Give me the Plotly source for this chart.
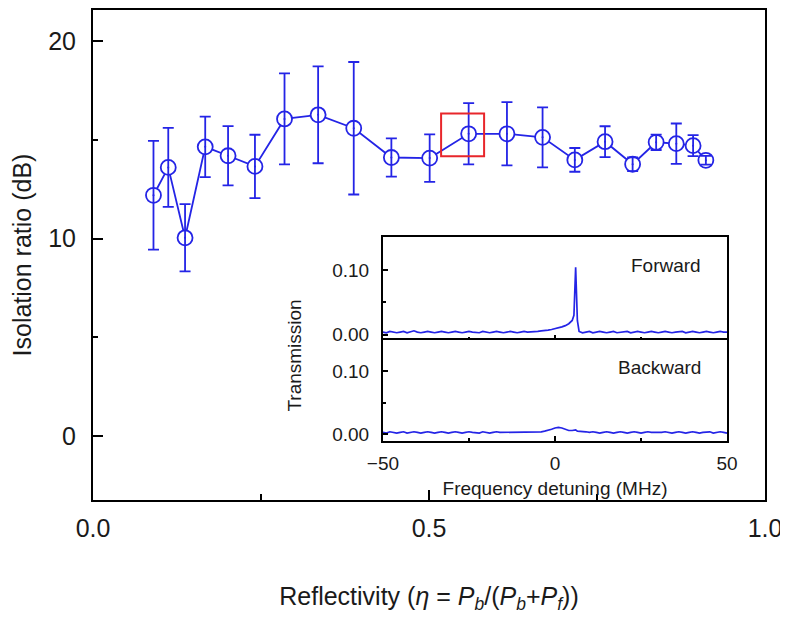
import plotly.graph_objects as go

# main panel: isolation ratio vs reflectivity
REFLECTIVITY = [0.090, 0.112, 0.137, 0.167, 0.201, 0.241, 0.285, 0.335, 0.388, 0.444, 0.501,
                0.559, 0.616, 0.669, 0.717, 0.762, 0.803, 0.838, 0.868, 0.893, 0.912]
ISOLATION_DB = [12.19, 13.60, 10.04, 14.64, 14.19, 13.65, 16.05, 16.26, 15.58, 14.10, 14.07,
                15.30, 15.30, 15.12, 13.98, 14.90, 13.76, 14.87, 14.80, 14.70, 13.96]
ISOLATION_ERR = [2.75, 2.00, 1.70, 1.53, 1.50, 1.60, 2.30, 2.45, 3.35, 0.97, 1.20,
                 1.55, 1.60, 1.52, 0.60, 0.78, 0.35, 0.39, 1.02, 0.53, 0.22]

# highlighted point (red box), in data units
HIGHLIGHT_X = [0.518, 0.582]
HIGHLIGHT_Y = [14.17, 16.32]

# inset: transmission spectra
DETUNING_MHZ = [-50, -49, -48, -47, -46, -45, -44, -43, -42, -41, -40, -39, -38, -37, -36, -35,
                -34, -33, -32, -31, -30, -29, -28, -27, -26, -25, -24, -23, -22, -21, -20, -19,
                -18, -17, -16, -15, -14, -13, -12, -11, -10, -9, -8, -7, -6, -5, -4, -3, -2, -1,
                0, 1, 2, 3, 4, 5, 5.5, 6, 6.5, 7, 8, 9, 10, 11, 12, 13, 14, 15, 16, 17, 18, 19,
                20, 21, 22, 23, 24, 25, 26, 27, 28, 29, 30, 31, 32, 33, 34, 35, 36, 37, 38, 39,
                40, 41, 42, 43, 44, 45, 46, 47, 48, 49, 50]
FORWARD = [0.004, 0.003, 0.005, 0.004, 0.003, 0.004, 0.005, 0.003, 0.004, 0.006, 0.004, 0.003,
           0.004, 0.005, 0.004, 0.003, 0.004, 0.005, 0.004, 0.003, 0.004, 0.005, 0.004, 0.003,
           0.004, 0.005, 0.004, 0.004, 0.003, 0.005, 0.004, 0.003, 0.004, 0.005, 0.004, 0.003,
           0.004, 0.005, 0.004, 0.003, 0.004, 0.005, 0.004, 0.004, 0.005, 0.005, 0.006, 0.006,
           0.007, 0.008, 0.009, 0.011, 0.012, 0.014, 0.017, 0.022, 0.030, 0.104, 0.022, 0.005,
           0.003, 0.004, 0.005, 0.003, 0.004, 0.005, 0.004, 0.003, 0.004, 0.005, 0.003, 0.004,
           0.004, 0.005, 0.003, 0.004, 0.005, 0.004, 0.003, 0.004, 0.005, 0.004, 0.003, 0.004,
           0.005, 0.004, 0.003, 0.004, 0.004, 0.005, 0.003, 0.004, 0.005, 0.004, 0.003, 0.004,
           0.005, 0.004, 0.003, 0.004, 0.005, 0.004, 0.004, 0.003, 0.004]
BACKWARD = [0.003, 0.002, 0.004, 0.003, 0.002, 0.003, 0.004, 0.002, 0.003, 0.004, 0.003, 0.002,
            0.003, 0.004, 0.003, 0.002, 0.003, 0.004, 0.003, 0.002, 0.003, 0.004, 0.003, 0.002,
            0.003, 0.004, 0.003, 0.003, 0.002, 0.004, 0.003, 0.002, 0.003, 0.004, 0.003, 0.003,
            0.004, 0.003, 0.004, 0.003, 0.003, 0.004, 0.003, 0.004, 0.004, 0.004, 0.004, 0.005,
            0.006, 0.008, 0.010, 0.011, 0.010, 0.008, 0.006, 0.006, 0.006, 0.007, 0.005, 0.005,
            0.004, 0.004, 0.003, 0.004, 0.003, 0.002, 0.003, 0.004, 0.003, 0.002, 0.003, 0.004,
            0.003, 0.002, 0.003, 0.004, 0.003, 0.002, 0.003, 0.004, 0.003, 0.003, 0.002, 0.003,
            0.004, 0.003, 0.002, 0.003, 0.004, 0.003, 0.002, 0.003, 0.004, 0.003, 0.002, 0.003,
            0.003, 0.004, 0.002, 0.003, 0.004, 0.003, 0.002, 0.003, 0.003]

BLUE = "#2424e6"
INK = "#1a1a1a"
FONT = "Liberation Sans, Arial, Helvetica, sans-serif"

fig = go.Figure()

# connecting line + hollow circles (white fill hides the line inside)
fig.add_trace(go.Scatter(
    x=REFLECTIVITY, y=ISOLATION_DB,
    mode="lines+markers",
    line=dict(color=BLUE, width=1.8),
    marker=dict(symbol="circle", size=15, color="white", line=dict(color=BLUE, width=1.8)),
    hoverinfo="skip",
))
# error bars drawn on top, so they show through the circles
fig.add_trace(go.Scatter(
    x=REFLECTIVITY, y=ISOLATION_DB,
    mode="markers",
    marker=dict(size=2, color=BLUE),
    error_y=dict(type="data", array=ISOLATION_ERR, color=BLUE, thickness=1.8, width=5.5),
))

fig.add_shape(
    type="rect", xref="x", yref="y",
    x0=HIGHLIGHT_X[0], x1=HIGHLIGHT_X[1], y0=HIGHLIGHT_Y[0], y1=HIGHLIGHT_Y[1],
    line=dict(color="#e8262b", width=2),
)

fig.add_trace(go.Scatter(
    x=DETUNING_MHZ, y=FORWARD, xaxis="x2", yaxis="y2",
    mode="lines", line=dict(color=BLUE, width=1.7),
))
fig.add_trace(go.Scatter(
    x=DETUNING_MHZ, y=BACKWARD, xaxis="x3", yaxis="y3",
    mode="lines", line=dict(color=BLUE, width=1.7),
))

frame = dict(showline=True, mirror=True, linecolor="black", linewidth=2,
             ticks="inside", tickcolor="black", showgrid=False, zeroline=False)

inset_x = [0.4315, 0.9435]

# the page body adds an 8 px offset, so the figure is 8 px smaller than the window
fig.update_layout(
    width=780, height=618,
    margin=dict(l=85, r=23, t=0, b=126),
    paper_bgcolor="white", plot_bgcolor="white",
    showlegend=False,
    font=dict(family=FONT, color=INK),
    xaxis=dict(
        **frame, range=[0, 1], tick0=0, dtick=0.5, tickformat=".1f",
        ticklen=10, tickwidth=1.5, ticklabelstandoff=5,
        minor=dict(dtick=0.25, ticklen=6, ticks="inside", tickcolor="black", tickwidth=1.5),
        tickfont=dict(size=25),
        title=dict(
            text="Reflectivity (<i>η</i> = <i>P</i><sub><i>b</i></sub>/(<i>P</i><sub><i>b</i></sub>"
                 "+<i>P</i><sub><i>f</i></sub>))",
            font=dict(size=25), standoff=46,
        ),
    ),
    yaxis=dict(
        **frame, range=[-3.22, 21.56], tick0=0, dtick=10,
        ticklen=10, tickwidth=1.5, ticklabelstandoff=10,
        minor=dict(dtick=5, ticklen=5, ticks="inside", tickcolor="black", tickwidth=1.5),
        tickfont=dict(size=25),
        title=dict(text="Isolation ratio (dB)", font=dict(size=25), standoff=9),
    ),
    xaxis2=dict(
        **frame, domain=inset_x, anchor="y2", range=[-50, 50], dtick=50,
        showticklabels=False, ticklen=5, tickwidth=1.5,
        minor=dict(dtick=25, ticklen=3, ticks="inside", tickcolor="black"),
    ),
    yaxis2=dict(
        **frame, domain=[0.3272, 0.5366], anchor="x2", range=[-0.0077, 0.1508],
        tickvals=[0.0, 0.1], ticktext=["0.00", "0.10"], ticklen=5, tickwidth=1.5,
        minor=dict(tickvals=[0.05], ticklen=3, ticks="inside", tickcolor="black"),
        tickfont=dict(size=19), ticklabelstandoff=8,
    ),
    xaxis3=dict(
        **frame, domain=inset_x, anchor="y3", range=[-50, 50], dtick=50,
        ticklen=5, tickwidth=1.5, ticklabelstandoff=4,
        minor=dict(dtick=25, ticklen=3, ticks="inside", tickcolor="black"),
        tickfont=dict(size=19),
        title=dict(text="Frequency detuning (MHz)", font=dict(size=19), standoff=9),
    ),
    yaxis3=dict(
        **frame, domain=[0.1199, 0.3272], anchor="x3", range=[-0.011, 0.150],
        tickvals=[0.0, 0.1], ticktext=["0.00", "0.10"], ticklen=5, tickwidth=1.5,
        minor=dict(tickvals=[0.05], ticklen=3, ticks="inside", tickcolor="black"),
        tickfont=dict(size=19), ticklabelstandoff=8,
    ),
)

fig.add_annotation(text="Forward", xref="paper", yref="paper", x=0.9077, y=0.4776,
                   xanchor="right", yanchor="middle", showarrow=False, font=dict(size=19))
fig.add_annotation(text="Backward", xref="paper", yref="paper", x=0.9077, y=0.2703,
                   xanchor="right", yanchor="middle", showarrow=False, font=dict(size=19))
fig.add_annotation(text="Transmission", xref="paper", yref="paper", x=0.3006, y=0.2947,
                   textangle=-90, xanchor="center", yanchor="middle", showarrow=False,
                   font=dict(size=19))

fig.write_html("out.html")
